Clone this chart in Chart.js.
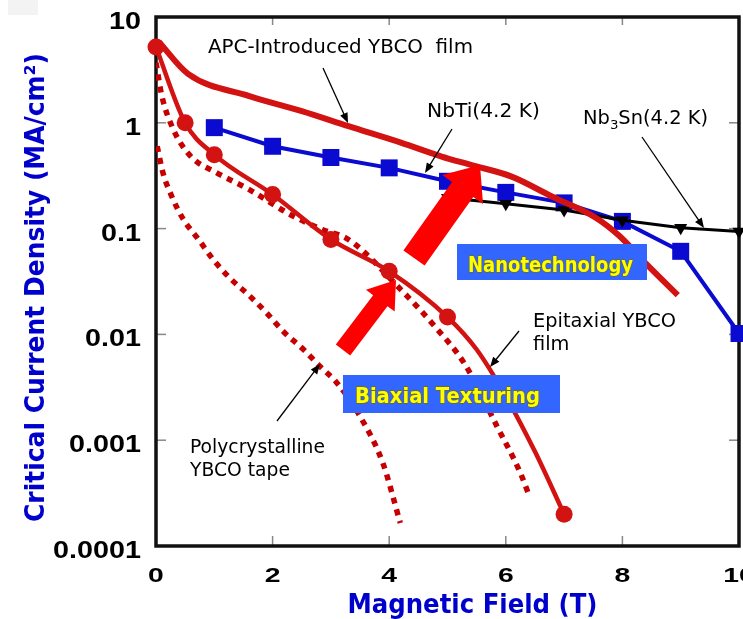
<!DOCTYPE html>
<html><head><meta charset="utf-8">
<script src="https://cdn.jsdelivr.net/npm/chart.js@4/dist/chart.umd.min.js"></script>
<style>html,body{margin:0;padding:0;overflow:hidden;background:#fff}</style>
</head><body>
<canvas id="c" width="743" height="619" style="width:743px;height:619px;display:block"></canvas>
<script>
// ---- data ----
const apcField = [0.05, 0.55, 1.6, 2.5, 3.3, 4.2, 4.9, 5.4, 6.1, 6.8, 7.55, 7.95, 8.4, 8.95];
const apcJc    = [5.8, 2.9, 1.79, 1.29, 0.93, 0.65, 0.48, 0.40, 0.31, 0.20, 0.126, 0.085, 0.047, 0.0235];

const epiField  = [0, 0.5, 1, 2, 3, 4, 5, 5.5, 6, 6.5, 7];
const epiJc     = [5.2, 1.0, 0.50, 0.21, 0.079, 0.0395, 0.0146, 0.0072, 0.0026, 0.00078, 0.0002];
const epiMarker = [1, 1, 1, 1, 1, 1, 1, 0, 0, 0, 1];

const biaxDotField = [0, 0.1, 0.3, 0.6, 1.05, 1.6, 2.3, 2.85, 3.3, 4.2, 4.8, 5.3, 5.85, 6.25, 6.4];
const biaxDotJc    = [3.7, 1.8, 0.86, 0.48, 0.335, 0.234, 0.136, 0.098, 0.079, 0.0265, 0.0116, 0.0052, 0.00135, 0.00049, 0.0003];

const polyField = [0.02, 0.12, 0.27, 0.47, 0.73, 0.98, 1.27, 1.61, 1.9, 2.18, 2.53, 2.81, 3.1, 3.5, 3.89, 4.19];
const polyJc    = [0.60, 0.336, 0.202, 0.122, 0.079, 0.051, 0.034, 0.023, 0.0159, 0.0107, 0.0072, 0.0050, 0.0035, 0.00168, 0.00061, 0.000165];

const nbtiField = [1, 2, 3, 4, 5, 6, 7, 8, 9, 10];
const nbtiJc    = [0.90, 0.60, 0.47, 0.375, 0.28, 0.22, 0.175, 0.117, 0.061, 0.0102];

const nb3snField = [5, 6, 7, 8, 9, 10];
const nb3snJc    = [0.196, 0.172, 0.150, 0.120, 0.102, 0.094];

const xTickValues = [0, 2, 4, 6, 8, 10];
const xTickLabels = ['0', '2', '4', '6', '8', '10'];
const yTickValues = [10, 1, 0.1, 0.01, 0.001, 0.0001];
const yTickLabels = ['10', '1', '0.1', '0.01', '0.001', '0.0001'];

const xTitle = 'Magnetic Field (T)';
const yTitle = 'Critical Current Density (MA/cm\u00B2)';

const pts = (xs, ys) => xs.map((x, i) => ({ x: x, y: ys[i] }));

// ---- helpers ----
function fitText(ctx, s, x, y, font, color, targetW, align, outline) {
  ctx.save();
  ctx.font = font;
  const m = ctx.measureText(s).width;
  const sx = targetW ? targetW / m : 1;
  ctx.translate(x, y); ctx.scale(sx, 1);
  ctx.textAlign = align || 'left'; ctx.textBaseline = 'alphabetic';
  if (outline) { ctx.strokeStyle = outline; ctx.lineWidth = 1.4; ctx.lineJoin = 'round'; ctx.strokeText(s, 0, 0); }
  ctx.fillStyle = color; ctx.fillText(s, 0, 0);
  ctx.restore();
  return sx;
}
function scaledText(ctx, s, x, y, font, color, sx, align) {
  ctx.save(); ctx.font = font; ctx.translate(x, y); ctx.scale(sx, 1);
  ctx.textAlign = align || 'left'; ctx.textBaseline = 'alphabetic';
  ctx.fillStyle = color; ctx.fillText(s, 0, 0); ctx.restore();
}
function thinArrow(ctx, x1, y1, x2, y2) {
  const a = Math.atan2(y2 - y1, x2 - x1), L = 10, W = 4;
  ctx.save(); ctx.strokeStyle = '#000'; ctx.fillStyle = '#000'; ctx.lineWidth = 1.3;
  ctx.beginPath(); ctx.moveTo(x1, y1); ctx.lineTo(x2 - Math.cos(a) * L * 0.8, y2 - Math.sin(a) * L * 0.8); ctx.stroke();
  ctx.beginPath(); ctx.moveTo(x2, y2);
  ctx.lineTo(x2 - Math.cos(a) * L + Math.sin(a) * W, y2 - Math.sin(a) * L - Math.cos(a) * W);
  ctx.lineTo(x2 - Math.cos(a) * L - Math.sin(a) * W, y2 - Math.sin(a) * L + Math.cos(a) * W);
  ctx.closePath(); ctx.fill(); ctx.restore();
}
function bigArrow(ctx, tx, ty, hx, hy, shaftW, headW, headL, color) {
  const dx = hx - tx, dy = hy - ty, len = Math.hypot(dx, dy);
  const ux = dx / len, uy = dy / len, px = -uy, py = ux;
  const bx = hx - ux * headL, by = hy - uy * headL;
  ctx.save(); ctx.fillStyle = color; ctx.beginPath();
  ctx.moveTo(tx + px * shaftW / 2, ty + py * shaftW / 2);
  ctx.lineTo(bx + px * shaftW / 2, by + py * shaftW / 2);
  ctx.lineTo(bx + px * headW / 2, by + py * headW / 2);
  ctx.lineTo(hx, hy);
  ctx.lineTo(bx - px * headW / 2, by - py * headW / 2);
  ctx.lineTo(bx - px * shaftW / 2, by - py * shaftW / 2);
  ctx.lineTo(tx - px * shaftW / 2, ty - py * shaftW / 2);
  ctx.closePath(); ctx.fill(); ctx.restore();
}

const framePlugin = {
  id: 'frame',
  beforeDatasetsDraw(chart) {
    const { ctx, chartArea: a, scales: { x, y } } = chart;
    ctx.save();
    ctx.fillStyle = '#f3f3f3'; ctx.fillRect(8, 0, 30, 15);
    ctx.strokeStyle = '#888'; ctx.lineWidth = 1.5;
    yTickValues.forEach(v => {
      const py = y.getPixelForValue(v);
      if (py <= a.top + 2 || py >= a.bottom - 2) return;
      ctx.beginPath(); ctx.moveTo(a.left, py); ctx.lineTo(a.left + 10, py); ctx.stroke();
      ctx.beginPath(); ctx.moveTo(a.right, py); ctx.lineTo(a.right - 10, py); ctx.stroke();
    });
    xTickValues.forEach(v => {
      const px = x.getPixelForValue(v);
      if (px <= a.left + 2 || px >= a.right - 2) return;
      ctx.beginPath(); ctx.moveTo(px, a.bottom); ctx.lineTo(px, a.bottom - 10); ctx.stroke();
      ctx.beginPath(); ctx.moveTo(px, a.top); ctx.lineTo(px, a.top + 8); ctx.stroke();
    });
    ctx.strokeStyle = '#111'; ctx.lineWidth = 3.5;
    ctx.strokeRect(a.left, a.top, a.right - a.left, a.bottom - a.top);
    ctx.restore();
  },
  afterDraw(chart) {
    const { ctx, chartArea: a, scales: { x, y } } = chart;
    // tick labels
    yTickValues.forEach((v, i) => {
      scaledText(ctx, yTickLabels[i], 141, y.getPixelForValue(v) + 12, 'bold 23px "Liberation Sans", Arial, sans-serif', '#000', 1.25, 'right');
    });
    xTickValues.forEach((v, i) => {
      scaledText(ctx, xTickLabels[i], x.getPixelForValue(v), 581.5, 'bold 21px "Liberation Sans", Arial, sans-serif', '#000', 1.35, 'center');
    });
    // axis titles
    fitText(ctx, xTitle, 472.5, 613, 'bold 27px "DejaVu Sans", sans-serif', '#0000cc', 250, 'center');
    ctx.save(); ctx.translate(43.5, 287.5); ctx.rotate(-Math.PI / 2);
    fitText(ctx, yTitle, 0, 0, 'bold 27px "DejaVu Sans", sans-serif', '#0000cc', 469, 'center');
    ctx.restore();

    // big red arrows
    bigArrow(ctx, 414, 258, 480, 165, 26, 50, 30, '#ff0000');
    bigArrow(ctx, 343, 350, 396, 280, 18, 36, 26, '#ff0000');

    // boxes
    ctx.fillStyle = '#3366ff';
    ctx.fillRect(457, 244, 190, 36);
    ctx.fillRect(343, 375, 217, 38);
    fitText(ctx, 'Nanotechnology', 468, 271.5, 'bold 21px "DejaVu Sans", sans-serif', '#ffff00', 165, 'left', '#6b6b20');
    fitText(ctx, 'Biaxial Texturing', 355, 403.3, 'bold 21px "DejaVu Sans", sans-serif', '#ffff00', 185, 'left', '#6b6b20');

    // annotation texts
    const af = '19px "DejaVu Sans", sans-serif';
    fitText(ctx, 'APC-Introduced YBCO  film', 208, 52.5, af, '#000', 265);
    fitText(ctx, 'NbTi(4.2 K)', 427, 117, af, '#000', 113);
    // Nb3Sn with subscript
    ctx.save(); ctx.font = af;
    const w1 = ctx.measureText('Nb').width, w3 = ctx.measureText('Sn(4.2 K)').width;
    ctx.font = '13px "DejaVu Sans", sans-serif';
    const w2 = ctx.measureText('3').width;
    ctx.restore();
    const s = 125 / (w1 + w2 + w3);
    scaledText(ctx, 'Nb', 583, 123.5, af, '#000', s);
    scaledText(ctx, '3', 583 + w1 * s, 128.5, '13px "DejaVu Sans", sans-serif', '#000', s);
    scaledText(ctx, 'Sn(4.2 K)', 583 + (w1 + w2) * s, 123.5, af, '#000', s);

    const se = fitText(ctx, 'Epitaxial YBCO', 533, 326.5, af, '#000', 143);
    scaledText(ctx, 'film', 533, 349.5, af, '#000', se);
    const sp = fitText(ctx, 'Polycrystalline', 190, 453, af, '#000', 135);
    scaledText(ctx, 'YBCO tape', 190, 476, af, '#000', sp);

    // thin arrows
    thinArrow(ctx, 323, 68, 348, 123);
    thinArrow(ctx, 452, 129, 425, 173);
    thinArrow(ctx, 642, 137, 704, 228);
    thinArrow(ctx, 519, 331, 490, 367);
    thinArrow(ctx, 277, 421, 320, 364);
  }
};

const solidRed = '#d31212';
const dotRed = '#c60000';

new Chart(document.getElementById('c'), {
  type: 'line',
  data: {
    datasets: [
      { label: 'APC-Introduced YBCO film', data: pts(apcField, apcJc), borderColor: solidRed, borderWidth: 6,
        pointRadius: 0, cubicInterpolationMode: 'monotone', order: 1 },
      { label: 'Nb3Sn (4.2 K)', data: pts(nb3snField, nb3snJc), borderColor: '#000', backgroundColor: '#000',
        borderWidth: 3, pointStyle: 'triangle', rotation: 180, pointRadius: 7.5, pointBorderWidth: 0, clip: false, order: 2 },
      { label: 'NbTi (4.2 K)', data: pts(nbtiField, nbtiJc), borderColor: '#0a0ad0', backgroundColor: '#0a0ad0',
        borderWidth: 4, pointStyle: 'rect', pointRadius: 12, pointBorderWidth: 0, clip: false, order: 3 },
      { label: 'Epitaxial YBCO film', data: pts(epiField, epiJc), borderColor: solidRed, backgroundColor: solidRed,
        borderWidth: 4.5, pointRadius: epiMarker.map(m => m ? 8.5 : 0), pointBorderWidth: 0,
        cubicInterpolationMode: 'monotone', clip: false, order: 4 },
      { label: 'Biaxial textured (dotted)', data: pts(biaxDotField, biaxDotJc), borderColor: dotRed, borderWidth: 5.5,
        borderDash: [6, 6], borderCapStyle: 'butt', pointRadius: 0, cubicInterpolationMode: 'monotone', order: 5 },
      { label: 'Polycrystalline YBCO tape', data: pts(polyField, polyJc), borderColor: dotRed, borderWidth: 5.5,
        borderDash: [6, 6], borderCapStyle: 'butt', pointRadius: 0, cubicInterpolationMode: 'monotone', order: 6 }
    ]
  },
  options: {
    responsive: false, animation: false, devicePixelRatio: 1,
    layout: { autoPadding: false, padding: { left: 156, right: 4, top: 17, bottom: 73 } },
    scales: {
      x: { type: 'linear', min: 0, max: 10, display: false },
      y: { type: 'logarithmic', min: 0.0001, max: 10, display: false }
    },
    plugins: { legend: { display: false }, tooltip: { enabled: false } },
    events: []
  },
  plugins: [framePlugin]
});
</script>
</body></html>
